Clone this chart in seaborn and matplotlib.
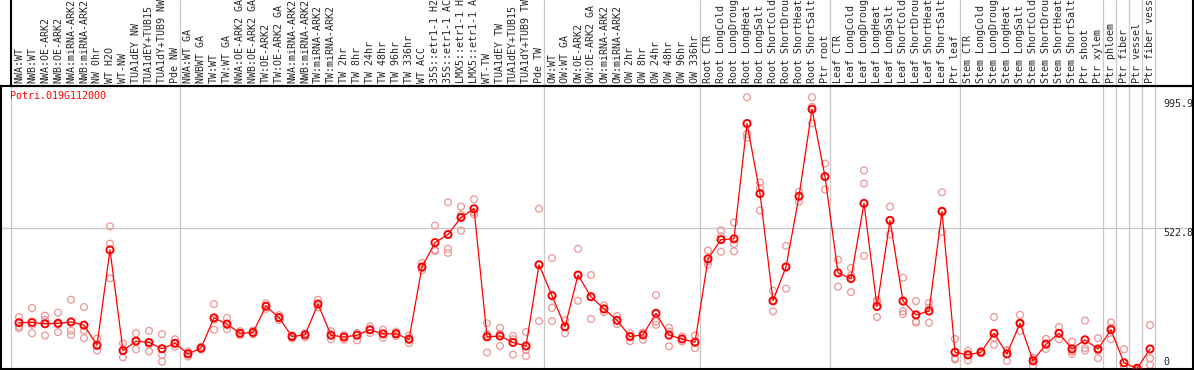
import numpy as np
import pandas as pd
import matplotlib
matplotlib.use("Agg")
import matplotlib.pyplot as plt
import seaborn as sns

sns.set_style("white")
plt.rcParams["font.family"] = ["DejaVu Sans Mono", "DejaVu Sans"]

gene_id = "Potri.019G112000"

sample_labels = [
    "NWA:WT", "NWB:WT", "NWA:OE-ARK2", "NWB:OE-ARK2", "NWA:miRNA-ARK2", "NWB:miRNA-ARK2",
    "NW 0hr", "WT H2O", "WT-NW", "TUA1dEY NW", "TUA1dEY+TUB15", "TUA1dY+TUB9 NW", "Pde NW",
    "NWA:WT GA", "NWBWT GA", "TW:WT", "TW:WT GA", "NWA:OE-ARK2 GA", "NWB:OE-ARK2 GA",
    "TW:OE-ARK2", "TW:OE-ARK2 GA", "NWA:miRNA-ARK2", "NWB:miRNA-ARK2", "TW:miRNA-ARK2",
    "TW:miRNA-ARK2", "TW 2hr", "TW 8hr", "TW 24hr", "TW 48hr", "TW 96hr", "TW 336hr",
    "WT ACC", "35S::etr1-1 H2", "35S::etr1-1 AC", "LMX5::etr1-1 H", "LMX5::etr1-1 A",
    "WT-TW", "TUA1dEY TW", "TUA1dEY+TUB15", "TUA1dY+TUB9 TW", "Pde TW",
    "OW:WT", "OW:WT GA", "OW:OE-ARK2", "OW:OE-ARK2 GA", "OW:miRNA-ARK2", "OW:miRNA-ARK2",
    "OW 2hr", "OW 8hr", "OW 24hr", "OW 48hr", "OW 96hr", "OW 336hr",
    "Root CTR", "Root LongCold", "Root LongDroug", "Root LongHeat", "Root LongSalt",
    "Root ShortCold", "Root ShortDrou", "Root ShortHeat", "Root ShortSalt", "Ptr root",
    "Leaf CTR", "Leaf LongCold", "Leaf LongDroug", "Leaf LongHeat", "Leaf LongSalt",
    "Leaf ShortCold", "Leaf ShortDrou", "Leaf ShortHeat", "Leaf ShortSalt", "Ptr leaf",
    "Stem CTR", "Stem LongCold", "Stem LongDroug", "Stem LongHeat", "Stem LongSalt",
    "Stem ShortCold", "Stem ShortDrou", "Stem ShortHeat", "Stem ShortSalt", "Ptr shoot",
    "Ptr xylem", "Ptr phloem", "Ptr fiber", "Ptr vessel", "Ptr fiber vess",
]

mean_expr = [
    171, 172, 167, 169, 174, 162, 88, 440, 68, 103, 98, 75, 95,
    56, 77, 189, 166, 132, 135, 232, 190, 120, 126, 240, 125, 118, 125, 145, 130, 130, 110,
    377, 467, 497, 560, 592, 119, 122, 98, 85, 385,
    271, 156, 347, 267, 222, 180, 120, 126, 206, 125, 111, 99,
    407, 478, 481, 907, 648, 252, 377, 638, 960, 711,
    355, 334, 612, 231, 549, 251, 200, 214, 582, 62,
    52, 62, 132, 56, 169, 30, 92, 132, 74, 108,
    74, 145, 23, 2, 74,
]

rep_a = [
    192, 225, 197, 208, 256, 229, 112, 527, 95, 132, 141, 129, 110,
    65, 82, 240, 189, 140, 142, 243, 199, 124, 132, 256, 140, 125, 133, 158, 146, 138, 124,
    392, 530, 616, 600, 627, 169, 152, 122, 137, 592,
    410, 180, 444, 347, 235, 196, 132, 135, 273, 152, 120, 124,
    438, 512, 541, 1004, 689, 289, 455, 655, 1004, 759,
    404, 373, 734, 247, 600, 337, 251, 244, 653, 111,
    68, 66, 192, 70, 200, 36, 111, 155, 101, 179,
    114, 172, 73, 5, 162,
]

rep_b = [
    151, 132, 124, 136, 142, 142, 68, 335, 43, 73, 65, 27, 83,
    46, 72, 145, 147, 125, 128, 222, 181, 113, 117, 228, 110, 108, 106, 133, 115, 122, 96,
    365, 436, 444, 511, 572, 61, 85, 53, 48, 177,
    226, 132, 252, 185, 210, 166, 103, 108, 175, 84, 102, 77,
    386, 433, 462, 868, 586, 213, 297, 618, 969, 663,
    304, 284, 685, 192, 497, 213, 175, 171, 507, 40,
    32, 58, 89, 30, 141, 12, 74, 110, 56, 77,
    40, 110, 0, 0, 40,
]

rep_c = [
    157, 163, 182, 165, 126, 114, 85, 463, 68, 103, 90, 52, 95,
    58, 77, 182, 162, 132, 135, 232, 190, 121, 126, 240, 125, 118, 125, 145, 130, 130, 110,
    375, 440, 429, 570, 580, 127, 130, 110, 70, 386,
    177, 156, 347, 267, 222, 180, 122, 126, 163, 138, 111, 99,
    398, 490, 435, 855, 668, 252, 377, 640, 907, 711,
    357, 345, 418, 254, 550, 203, 172, 226, 586, 35,
    56, 62, 115, 68, 166, 42, 92, 131, 65, 68,
    68, 153, 10, 0, 15,
]

group_starts = [0, 13, 41, 53, 63, 73, 84, 85, 86, 87, 88]
axis_mid_value = 522.8
axis_top_label = 995.9

W, H = 1194, 370
STEP, X0 = 13.0, 19.0


def px(i):
    return X0 + STEP * i


def fx(p):
    return p / W


def fy(p):
    return 1 - p / H


idx = np.arange(len(sample_labels))
rep_df = pd.DataFrame({
    "idx": np.concatenate([idx, idx, idx]),
    "value": np.concatenate([rep_a, rep_b, rep_c]).astype(float),
})
mean_df = pd.DataFrame({"idx": idx, "value": np.array(mean_expr, dtype=float)})

fig = plt.figure(figsize=(W / 100, H / 100), dpi=100)

# main plotting axes
ax = fig.add_axes([fx(1), fy(369), fx(1193) - fx(1), fy(86) - fy(369)])
ax.set_xlim((1 - X0) / STEP, (1193 - X0) / STEP)
ax.set_ylim(0, 2 * axis_mid_value)
ax.set_xticks([])
ax.set_yticks([])
for s in ax.spines.values():
    s.set_color("black")
    s.set_linewidth(1.5)

grid_c = "#c8c8c8"
for b in group_starts:
    ax.axvline(b - 0.6, color=grid_c, lw=0.9, zorder=0)
ax.axhline(axis_mid_value, color=grid_c, lw=0.9, zorder=0)

sns.scatterplot(data=rep_df, x="idx", y="value", marker="o", s=24,
                facecolor="none", edgecolor="#ee9494", linewidth=0.9,
                ax=ax, zorder=2, legend=False)
sns.lineplot(data=mean_df, x="idx", y="value", color="red", linewidth=0.9,
             ax=ax, zorder=3, legend=False, errorbar=None)
sns.scatterplot(data=mean_df, x="idx", y="value", marker="o", s=26,
                facecolor="none", edgecolor="red", linewidth=1.4,
                ax=ax, zorder=4, legend=False)
ax.set_xlabel("")
ax.set_ylabel("")

ax.text((10 - X0) / STEP, 1008, gene_id, color="red", ha="left", va="center",
        fontsize=7.2)
ytx = (1163 - X0) / STEP
ax.text(ytx, axis_top_label, f"{axis_top_label:g}", ha="left", va="top", fontsize=7.2)
ax.text(ytx, axis_mid_value, f"{axis_mid_value:g}", ha="left", va="top", fontsize=7.2)
ax.text(ytx, 26, "0", ha="left", va="center", fontsize=7.2)

# label strip axes
lx0 = px(-0.6)
axl = fig.add_axes([fx(lx0), fy(86), fx(1193) - fx(lx0), 1 - fy(86)])
axl.set_xlim(-0.6, (1193 - X0) / STEP)
axl.set_ylim(0, 1)
axl.set_xticks([])
axl.set_yticks([])
axl.patch.set_alpha(0)
axl.spines["top"].set_visible(False)
for k in ["left", "right", "bottom"]:
    axl.spines[k].set_color("black")
    axl.spines[k].set_linewidth(1.5)
for b in group_starts[1:]:
    axl.axvline(b - 0.6, color=grid_c, lw=0.9, zorder=0)
for i, lab in enumerate(sample_labels):
    axl.text(i, 0.035, lab, rotation=90, ha="center", va="bottom",
             fontsize=7.2, clip_on=False)

fig.savefig("out.png", dpi=100)
